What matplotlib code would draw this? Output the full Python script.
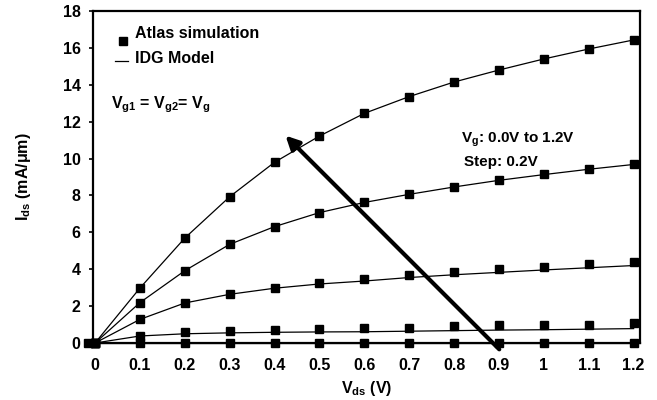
import matplotlib
matplotlib.use('Agg')
import matplotlib.pyplot as plt

plt.rcParams['font.family'] = ['Liberation Sans', 'DejaVu Sans']
plt.rcParams['font.weight'] = 'bold'
plt.rcParams['mathtext.default'] = 'regular'

##########################################################
#                        Data                            #
##########################################################

vds = [0, 0.1, 0.2, 0.3, 0.4, 0.5, 0.6, 0.7, 0.8, 0.9, 1.0, 1.1, 1.2]
x_labels = ['0', '0.1', '0.2', '0.3', '0.4', '0.5', '0.6', '0.7', '0.8', '0.9', '1', '1.1', '1.2']

# Atlas simulation (markers), one list per gate voltage
sim_vg12 = [0.02, 2.98, 5.69, 7.93, 9.80, 11.22, 12.47, 13.36, 14.17, 14.80, 15.40, 15.94, 16.43]
sim_vg10 = [0.02, 2.19, 3.92, 5.35, 6.31, 7.07, 7.65, 8.08, 8.48, 8.84, 9.15, 9.43, 9.70]
sim_vg08 = [0.02, 1.28, 2.19, 2.66, 3.00, 3.27, 3.49, 3.69, 3.85, 4.01, 4.12, 4.28, 4.39]
sim_vg06 = [0.02, 0.38, 0.58, 0.67, 0.72, 0.76, 0.83, 0.83, 0.92, 0.99, 0.99, 1.00, 1.10]
sim_vg04 = [0.02, 0.02, 0.02, 0.02, 0.02, 0.02, 0.02, 0.02, 0.02, 0.02, 0.02, 0.02, 0.02]

# extra marker just left of the origin
origin_vds = [-0.016]
origin_ids = [0.02]

# IDG model (lines)
mod_vg12 = [0, 2.98, 5.69, 7.93, 9.80, 11.22, 12.45, 13.36, 14.15, 14.80, 15.40, 15.94, 16.43]
mod_vg10 = [0, 2.19, 3.92, 5.35, 6.31, 7.07, 7.62, 8.06, 8.46, 8.82, 9.13, 9.42, 9.68]
mod_vg08 = [0, 1.28, 2.17, 2.64, 2.97, 3.20, 3.36, 3.55, 3.70, 3.83, 3.96, 4.08, 4.20]
mod_vg06 = [0, 0.38, 0.50, 0.55, 0.58, 0.60, 0.61, 0.64, 0.67, 0.70, 0.72, 0.75, 0.78]
mod_vg04 = [0, 0, 0, 0, 0, 0, 0, 0, 0, 0, 0, 0, 0]

sim_series = [sim_vg12, sim_vg10, sim_vg08, sim_vg06, sim_vg04]
mod_series = [mod_vg12, mod_vg10, mod_vg08, mod_vg06, mod_vg04]

##########################################################
#                        Plot                            #
##########################################################

fs = 11.5

fig = plt.figure(figsize=(6.57, 4.0), dpi=100)
ax = fig.add_axes([0.1416, 0.1425, 0.8324, 0.83])

for ids in mod_series:
    ax.plot(vds, ids, color='black', lw=0.9, clip_on=False, zorder=3)
for ids in sim_series:
    ax.plot(vds, ids, 's', color='black', ms=5.5, clip_on=False, zorder=4)
ax.plot(origin_vds, origin_ids, 's', color='black', ms=5.5, clip_on=False, zorder=4)

ax.set_xlim(-0.0045, 1.214)
ax.set_ylim(0, 18)
ax.set_xticks(vds)
ax.set_xticklabels(x_labels)
ax.set_yticks(range(0, 19, 2))
ax.tick_params(axis='x', length=0, pad=11, labelsize=fs)
ax.tick_params(axis='y', length=3, width=1.2, direction='out', labelsize=fs, pad=6)
for s in ax.spines.values():
    s.set_linewidth(1.6)

ax.set_xlabel('V$_{ds}$ (V)', fontsize=fs, fontweight='bold', labelpad=4)
ax.set_ylabel('I$_{ds}$ (mA/\u03bcm)', fontsize=fs, fontweight='bold', labelpad=21)

# legend drawn by hand
ax.plot([0.063], [16.4], 's', color='black', ms=5.5)
ax.text(0.09, 16.8, 'Atlas simulation', fontsize=fs, fontweight='bold', va='center')
ax.plot([0.045, 0.073], [15.3, 15.3], color='black', lw=0.9)
ax.text(0.09, 15.4, 'IDG Model', fontsize=fs, fontweight='bold', va='center')
ax.text(0.035, 12.9, 'V$_{g1}$ = V$_{g2}$= V$_{g}$', fontsize=11.5, fontweight='bold', va='center')

# sweep arrow
ax.annotate('', xy=(0.42, 11.35), xytext=(0.905, -0.45),
            arrowprops=dict(arrowstyle='-|>', color='black', lw=3, mutation_scale=20),
            annotation_clip=False, zorder=5)
ax.text(0.815, 11.0, 'V$_g$: 0.0V to 1.2V', fontsize=11, fontweight='bold', va='center')
ax.text(0.822, 9.8, 'Step: 0.2V', fontsize=11, fontweight='bold', va='center')

plt.savefig('out.png', dpi=100)
